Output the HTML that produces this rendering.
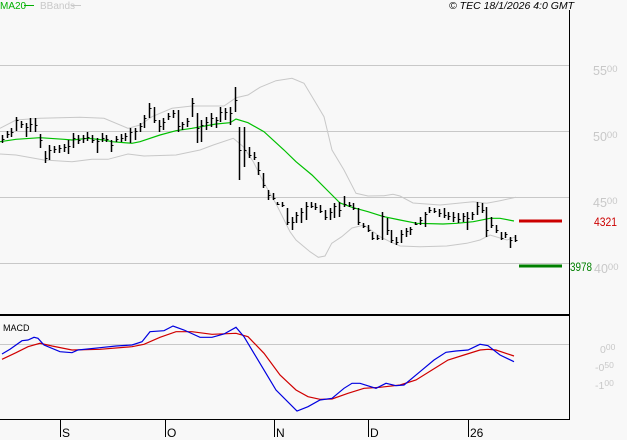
<!DOCTYPE html>
<html><head><meta charset="utf-8"><style>
html,body{margin:0;padding:0;background:#f8f8f8;}
svg{display:block;font-family:"Liberation Sans",Arial,sans-serif;}
</style></head><body>
<svg width="627" height="440" viewBox="0 0 627 440" xmlns="http://www.w3.org/2000/svg">
<rect width="627" height="440" fill="#f8f8f8"/>
<!-- grid -->
<g stroke="#c8c8c8" stroke-width="1">
<path d="M0 65.5H569M0 131.5H569M0 197.5H569M0 263.5H569"/>
<path d="M0 344.5H569"/>
</g>
<!-- legend -->
<text x="0" y="9" font-size="10" fill="#00b000">MA20</text>
<path d="M24 5.5H34" stroke="#00b000" stroke-width="1"/>
<text x="40" y="9" font-size="10" fill="#c8c8c8">BBands</text>
<path d="M71 5.5H81" stroke="#c8c8c8" stroke-width="1"/>
<text x="449" y="9" font-size="10.5" font-style="italic" fill="#000">© TEC 18/1/2026 4:0 GMT</text>
<!-- bollinger -->
<g fill="none" stroke="#c8c8c8" stroke-width="1">
<polyline points="0,128.3 16,120 40,118.3 80,117.3 104,118.3 128,128.3 140,125 152,116.7 172,108.3 192,106 224,106 236,97.7 248,95 260,87.3 276,80.7 292,78.3 304,83.3 316,103.3 324,116.7 332,150 344,170 356,193.3 368,196 384,195.7 393,194.3 400,196 413,203 440,205 473,201.7 486.7,203.3 500,200.7 516,197.3"/>
<polyline points="0,154 16,155 44,160 72,161.7 92,159.3 108,159.3 128,154 144,156 176,155 200,150 213.3,145 233.3,138.3 243.3,146.7 253.3,161.7 263.3,181.7 276.7,205 290,231.7 296,240 310,251.7 318.3,257.3 325,256 331.7,243.3 341.7,236.7 352,228 364,225 380,236.7 390,241.7 400,246 420,246.7 446.7,246 466.7,243.3 480,240 490,235 500,238 507,240 516,236.7"/>
</g>
<!-- MA20 -->
<polyline fill="none" stroke="#00c000" stroke-width="1.2" points="0,141.7 16,139.3 40,137.7 64,139.3 72,140 88,138.3 104,140 112,141.7 132,143.3 140,141.7 160,135 176,130.7 192,128.3 216,124 230,122.7 236,119 248,122.7 264,131.7 284,150 296,161.7 312,175 328,191 340,203 352,207.3 368,211.7 384,216.7 400,220 416.7,223.3 443,224 456.7,223.3 473.3,221.7 490,218.3 500,218.3 514,221"/>
<!-- price bars -->
<path fill="none" stroke="#000" stroke-width="1.5" d="M2.5 135V143M7.5 131V138M11.5 128V137M16.5 117V131M21.5 121V128M26.5 123V137M30.5 118V132M35.5 118V132M40.5 134V148M45.5 151V163M49.5 145V160M54.5 146V153M59.5 145V153M64.5 144V152M68.5 140V154M73.5 133V148M78.5 135V144M83.5 135V143M87.5 132V141M92.5 135V143M97.5 138V153M102.5 133V142M106.5 135V142M111.5 140V152M116.5 136V142M121.5 134V142M125.5 133V141M130.5 128V143M135.5 128V140M140.5 123V132M144.5 115V128M149.5 103V118M154.5 107V123M159.5 120V132M163.5 118V130M168.5 113V120M173.5 110V118M178.5 110V132M182.5 122V130M187.5 118V127M192.5 98V117M197.5 113V143M201.5 120V142M206.5 117V130M211.5 113V127M216.5 117V128M220.5 107V122M225.5 108V120M230.5 107V125M235.5 87V112M239.5 127V180M244.5 127V167M249.5 147V158M254.5 152V160M258.5 162V175M263.5 173V188M268.5 190V200M273.5 193V200M277.5 202V205M282.5 202V207M287.5 208V225M292.5 217V230M296.5 212V223M301.5 208V223M306.5 202V220M311.5 202V208M315.5 203V210M320.5 205V213M325.5 210V220M330.5 208V220M334.5 203V218M339.5 202V217M344.5 196V207M349.5 202V207M353.5 203V210M358.5 208V225M363.5 223V228M368.5 225V232M372.5 232V240M377.5 235V240M382.5 212V240M387.5 218V235M391.5 230V243M396.5 237V245M401.5 230V243M406.5 228V237M410.5 227V235M415.5 222V225M420.5 217V225M425.5 212V227M429.5 207V213M434.5 208V213M439.5 209V217M444.5 208V218M448.5 212V220M453.5 212V222M458.5 213V223M463.5 213V222M467.5 212V230M472.5 212V220M477.5 202V215M482.5 203V213M486.5 207V237M491.5 217V228M496.5 225V233M501.5 232V240M505.5 232V238M510.5 237V248M515.5 235V242"/>
<path fill="none" stroke="#000" stroke-width="1" d="M2.5 139.5h2M7.5 134.5h2M11.5 132.5h2M16.5 120.5h2M21.5 124.5h2M26.5 127.5h2M30.5 124.5h2M35.5 125.5h2M40.5 140.5h2M45.5 158.5h2M49.5 150.5h2M54.5 149.5h2M59.5 148.5h2M64.5 147.5h2M68.5 146.5h2M73.5 138.5h2M78.5 140.5h2M83.5 138.5h2M87.5 137.5h2M92.5 140.5h2M97.5 141.5h2M102.5 138.5h2M106.5 139.5h2M111.5 145.5h2M116.5 139.5h2M121.5 138.5h2M125.5 136.5h2M130.5 132.5h2M135.5 131.5h2M140.5 126.5h2M144.5 118.5h2M149.5 108.5h2M154.5 120.5h2M159.5 126.5h2M163.5 122.5h2M168.5 116.5h2M173.5 113.5h2M178.5 126.5h2M182.5 124.5h2M187.5 121.5h2M192.5 103.5h2M197.5 128.5h2M201.5 125.5h2M206.5 122.5h2M211.5 118.5h2M216.5 120.5h2M220.5 112.5h2M225.5 112.5h2M230.5 113.5h2M235.5 100.5h2M239.5 150.5h2M244.5 150.5h2M249.5 155.5h2M254.5 157.5h2M258.5 170.5h2M263.5 185.5h2M268.5 195.5h2M273.5 198.5h2M277.5 204.5h2M282.5 205.5h2M287.5 222.5h2M292.5 222.5h2M296.5 215.5h2M301.5 212.5h2M306.5 206.5h2M311.5 206.5h2M315.5 207.5h2M320.5 211.5h2M325.5 217.5h2M330.5 212.5h2M334.5 206.5h2M339.5 210.5h2M344.5 204.5h2M349.5 205.5h2M353.5 208.5h2M358.5 222.5h2M363.5 226.5h2M368.5 230.5h2M372.5 238.5h2M377.5 238.5h2M382.5 216.5h2M387.5 230.5h2M391.5 240.5h2M396.5 242.5h2M401.5 234.5h2M406.5 231.5h2M410.5 229.5h2M415.5 224.5h2M420.5 220.5h2M425.5 214.5h2M429.5 210.5h2M434.5 211.5h2M439.5 213.5h2M444.5 215.5h2M448.5 216.5h2M453.5 217.5h2M458.5 219.5h2M463.5 216.5h2M467.5 218.5h2M472.5 214.5h2M477.5 206.5h2M482.5 210.5h2M486.5 230.5h2M491.5 225.5h2M496.5 230.5h2M501.5 238.5h2M505.5 234.5h2M510.5 240.5h2M515.5 240.5h2"/>
<!-- level lines -->
<rect x="519" y="219.5" width="43" height="3" fill="#cc0000"/>
<rect x="519" y="264.5" width="43" height="3" fill="#008000"/>
<!-- axes -->
<path d="M569.5 10V419.5M0 419.5H570" stroke="#000" stroke-width="1" fill="none"/>
<rect x="0" y="314" width="570" height="2" fill="#000"/>
<path d="M60.5 419V437M165.5 419V437M274.5 419V437M368.5 419V437M468.5 419V437" stroke="#000" stroke-width="1"/>
<g font-size="12" fill="#000">
<text x="62" y="437">S</text>
<text x="167" y="437">O</text>
<text x="276" y="437">N</text>
<text x="370" y="437">D</text>
<text x="470" y="437">26</text>
</g>
<!-- right labels -->
<g fill="#c8c8c8" font-size="12.5">
<text x="593" y="75">55<tspan font-size="9.5" dy="-3">00</tspan></text>
<text x="593" y="141">50<tspan font-size="9.5" dy="-3">00</tspan></text>
<text x="593" y="207">45<tspan font-size="9.5" dy="-3">00</tspan></text>
<text x="594" y="273">40<tspan font-size="9.5" dy="-3">00</tspan></text>
</g>
<text x="594" y="226" font-size="11.5" fill="#cc0000" textLength="23" lengthAdjust="spacingAndGlyphs">4321</text>
<text x="570" y="271" font-size="11.5" fill="#008000" textLength="22" lengthAdjust="spacingAndGlyphs">3978</text>
<!-- MACD -->
<text x="3" y="331" font-size="9" fill="#000">MACD</text>
<g fill="#c8c8c8" font-size="10.5">
<text x="600" y="353">0<tspan font-size="8.5" dy="-3">00</tspan></text>
<text x="595" y="371">-0<tspan font-size="8.5" dy="-3">50</tspan></text>
<text x="595" y="389">-1<tspan font-size="8.5" dy="-3">00</tspan></text>
</g>
<polyline fill="none" stroke="#d00000" stroke-width="1.2" points="2,359.3 16,352.7 28,346.7 40,343.3 52,346 72,350 100,349.3 132,346.7 144,344.3 160,337.3 176,331.7 192,331.7 212,334.3 236,333.3 248,336.7 264,353.3 280,375 296,390 308,396.7 320,399.3 332,399 348,393.3 364,388.3 380,387.3 400,385 416,380 432,370 448,360 464,355 480,350 488,349.3 496,350 514,356"/>
<polyline fill="none" stroke="#0000e0" stroke-width="1.2" points="2,354 10,349.3 22,340.7 28,340 34,337.3 38,338.3 44,345 60,351.7 72,352.7 78,350 100,347.7 116,346 132,345 142,341.7 150,331.7 164,330.7 173,326 184,330 200,337.3 212,337.3 224,334 236,327.3 244,336.7 256,356.7 276,390 297,411 308,406.7 320,400 332,398.3 344,388.3 352,383.3 360,383.3 376,388.3 386,383.3 396,385.7 404,385 420,371.7 434,360 446,352.3 456,351 468,350 480,344.3 488,345.7 500,355 514,361.7"/>
</svg>
</body></html>
